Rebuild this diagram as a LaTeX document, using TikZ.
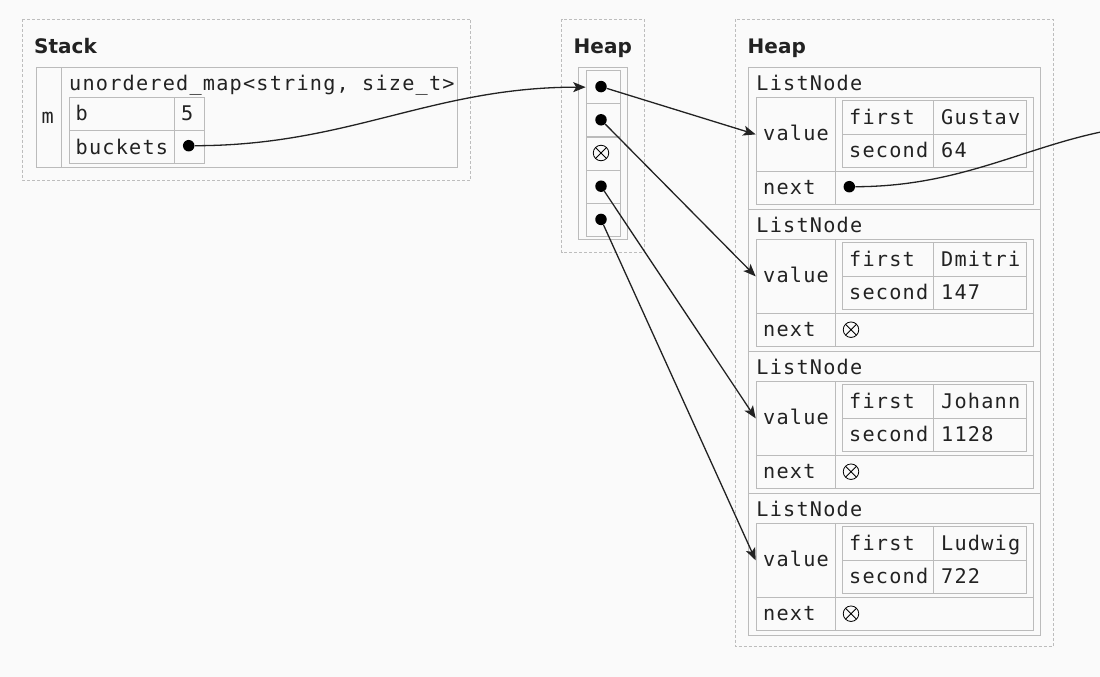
\documentclass[tikz,border=0pt]{standalone}
\usepackage{fontspec}
\newfontfamily\monof{DejaVu Sans Mono}[LetterSpace=6]
\newfontfamily\headf{DejaVu Sans}
\usetikzlibrary{arrows.meta}
\definecolor{bggray}{HTML}{FAFAFA}
\definecolor{boxgray}{HTML}{BBBBBB}
\definecolor{dashgray}{HTML}{BDBDBD}
\definecolor{ink}{HTML}{222222}
\tikzset{
    panel/.style = {draw=dashgray, line width=0.8pt, dash pattern=on 3pt off 2pt},
    cell/.style = {rectangle, draw=boxgray, line width=1.1pt, anchor=north west, inner sep=0pt},
    heading/.style = {anchor=base west, inner sep=0pt, text=ink, font=\headf\bfseries\fontsize{20}{24}\selectfont},
    code/.style = {anchor=base west, inner sep=0pt, text=ink, font=\monof\fontsize{20.2}{24}\selectfont},
    ptrdot/.style = {circle, fill=black, inner sep=0pt, minimum size=11.5pt},
    nullmark/.style = {circle, draw=black, line width=0.8pt, inner sep=0pt, minimum size=15.5pt,
        path picture={\draw[line width=0.8pt] (path picture bounding box.north west) -- (path picture bounding box.south east)
                      (path picture bounding box.south west) -- (path picture bounding box.north east);}},
    ptrarrow/.style = {-{Stealth[length=12.5pt,width=10pt,inset=3pt]}, line width=1.3pt, draw=ink},
}

\begin{document}
\begin{tikzpicture}[x=1pt,y=-1pt]
\fill[bggray] (0,0) rectangle (1100,677);
\useasboundingbox (0,0) rectangle (1100,677);

% panels
\draw[panel] (22.5,19.5) rectangle (470.5,180);
\draw[panel] (561.7,19.5) rectangle (644.3,252);
\draw[panel] (735,19.5) rectangle (1053.3,646);
\node[heading] at (34,53) (stacktitle) {Stack};
\node[heading] at (573.5,53) (heaptitle) {Heap};
\node[heading] at (747.5,53) (listtitle) {Heap};

% stack: m
\node[cell, minimum width=25.6pt, minimum height=100.3pt] at (35.7,66.7) (mcol) {};
\node[cell, minimum width=396pt, minimum height=100.3pt] at (61.3,66.7) (mtype) {};
\node[code] at (41.5,123.5) (mname) {m};
\node[code] at (69,90) (mtypename) {unordered\_map<string, size\_t>};
\node[cell, minimum width=105.6pt, minimum height=33.6pt] at (68.7,96.7) (bkey) {};
\node[cell, minimum width=30pt, minimum height=33.6pt] at (174.3,96.7) (bval) {};
\node[cell, minimum width=105.6pt, minimum height=33pt] at (68.7,130.3) (bukey) {};
\node[cell, minimum width=30pt, minimum height=33pt] at (174.3,130.3) (buval) {};
\node[code] at (75.5,120) (btxt) {b};
\node[code] at (181,120) (bnum) {5};
\node[code] at (75.5,154) (butxt) {buckets};
\node[ptrdot] at (188.7,145.7) (budot) {};

% heap: bucket array
\node[cell, minimum width=49pt, minimum height=172.6pt] at (578.3,66.7) (harr) {};
\node[cell, minimum width=34.6pt, minimum height=33.2pt] at (585.7,70) (h0) {};
\node[cell, minimum width=34.6pt, minimum height=33.2pt] at (585.7,103.2) (h1) {};
\node[cell, minimum width=34.6pt, minimum height=33.2pt] at (585.7,136.4) (h2) {};
\node[cell, minimum width=34.6pt, minimum height=33.2pt] at (585.7,169.6) (h3) {};
\node[cell, minimum width=34.6pt, minimum height=33.2pt] at (585.7,202.8) (h4) {};
\node[ptrdot] at (601,86.6) (hd0) {};
\node[ptrdot] at (601,119.8) (hd1) {};
\node[nullmark] at (601,153) (hd2) {};
\node[ptrdot] at (601,186.2) (hd3) {};
\node[ptrdot] at (601,219.4) (hd4) {};

% heap: list nodes
\foreach \k/\who/\num in {0/Gustav/64, 1/Dmitri/147, 2/Johann/1128, 3/Ludwig/722} {
  \pgfmathsetmacro\t{66.7+142*\k}
  \node[cell, minimum width=292pt, minimum height=142pt] at (748.3,\t) (ln\k) {};
  \node[code] at (756.2,\t+23.3) (lntxt\k) {ListNode};
  \node[cell, minimum width=79pt, minimum height=74.3pt] at (755.7,\t+30) (val\k) {};
  \node[cell, minimum width=198.6pt, minimum height=74.3pt] at (834.7,\t+30) (vtab\k) {};
  \node[cell, minimum width=79pt, minimum height=33pt] at (755.7,\t+104.3) (nxk\k) {};
  \node[cell, minimum width=198.6pt, minimum height=33pt] at (834.7,\t+104.3) (nxv\k) {};
  \node[cell, minimum width=91.6pt, minimum height=34pt] at (841.7,\t+33.6) (fk\k) {};
  \node[cell, minimum width=93pt, minimum height=34pt] at (933.3,\t+33.6) (fv\k) {};
  \node[cell, minimum width=91.6pt, minimum height=32.7pt] at (841.7,\t+67.6) (sk\k) {};
  \node[cell, minimum width=93pt, minimum height=32.7pt] at (933.3,\t+67.6) (sv\k) {};
  \node[code] at (763,\t+74) (valtxt\k) {value};
  \node[code] at (849,\t+57.3) (ftxt\k) {first};
  \node[code] at (941,\t+57.3) (fvtxt\k) {\who};
  \node[code] at (849,\t+90.6) (stxt\k) {second};
  \node[code] at (941,\t+90.6) (svtxt\k) {\num};
  \node[code] at (763,\t+127.3) (nxtxt\k) {next};
}
\node[ptrdot] at (849.3,186.7) (nd0) {};
\node[nullmark] at (851,329.7) (nd1) {};
\node[nullmark] at (851,471.7) (nd2) {};
\node[nullmark] at (851,613.7) (nd3) {};

% pointers
\coordinate (offright) at (1185,124);
\begin{scope}
\clip (0,0) rectangle (1100,677);
\draw[ptrarrow] (budot) to[out=0,in=180] (h0.west);
\draw[ptrarrow] (hd0) -- (val0.west);
\draw[ptrarrow] (hd1) -- (val1.west);
\draw[ptrarrow] (hd3) -- (val2.west);
\draw[ptrarrow] (hd4) -- (val3.west);
\draw[ptrarrow] (nd0) to[out=0,in=180] (offright);
\end{scope}
\end{tikzpicture}
\end{document}
